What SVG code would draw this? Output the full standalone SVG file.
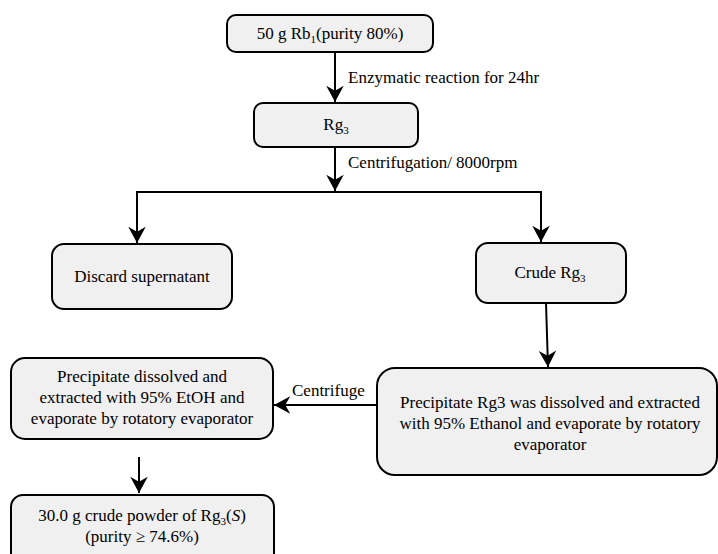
<svg xmlns="http://www.w3.org/2000/svg" width="718" height="554" viewBox="0 0 718 554">
<style>
.box{fill:#f0f0f0;stroke:#000;stroke-width:2}
.t{font-family:"Liberation Serif","Times New Roman",serif;font-size:17px;fill:#000}
.c{text-anchor:middle}
.ln{fill:none;stroke:#000;stroke-width:2}
.sub{font-size:11px}
</style>
<defs>
<marker id="ah" markerUnits="userSpaceOnUse" markerWidth="20" markerHeight="20" viewBox="-14 -8 16 16" refX="0" refY="0" orient="auto">
<path d="M-13,-7 L0,0 L-13,7 L-9,0 Z" fill="#000"/>
</marker>
</defs>
<rect width="718" height="554" fill="#fff"/>
<g id="connectors">
<line class="ln" x1="335" y1="52" x2="335" y2="102" marker-end="url(#ah)"/>
<line class="ln" x1="335" y1="147" x2="335" y2="191" marker-end="url(#ah)"/>
<polyline class="ln" points="137,243 137,192 541,192 541,243"/>
<line class="ln" x1="137" y1="200" x2="137" y2="243" marker-end="url(#ah)"/>
<line class="ln" x1="541" y1="200" x2="541" y2="242" marker-end="url(#ah)"/>
<line class="ln" x1="546" y1="303" x2="548" y2="367" marker-end="url(#ah)"/>
<line class="ln" x1="377" y1="405" x2="274" y2="405" marker-end="url(#ah)"/>
<line class="ln" x1="139" y1="457" x2="139" y2="493" marker-end="url(#ah)"/>
<text class="t" x="348" y="83">Enzymatic reaction for 24hr</text>
<text class="t" x="348" y="168">Centrifugation/ 8000rpm</text>
<text class="t" x="292" y="396">Centrifuge</text>
</g>
<g id="n1">
<rect class="box" x="227" y="15" width="206" height="37" rx="9"/>
<text class="t c" x="330" y="39">50 g Rb<tspan class="sub" dy="4">1</tspan><tspan dy="-4">(purity 80%)</tspan></text>
</g>
<g id="n2">
<rect class="box" x="254" y="103" width="164" height="44" rx="9"/>
<text class="t c" x="336" y="130">Rg<tspan class="sub" dy="4">3</tspan></text>
</g>
<g id="n3">
<rect class="box" x="52" y="244" width="180" height="65" rx="12"/>
<text class="t c" x="142" y="282">Discard supernatant</text>
</g>
<g id="n4">
<rect class="box" x="476" y="243" width="150" height="60" rx="12"/>
<text class="t c" x="550" y="278">Crude Rg<tspan class="sub" dy="4">3</tspan></text>
</g>
<g id="n5">
<rect class="box" x="377" y="368" width="340" height="107" rx="18"/>
<text class="t c" x="550" y="408">Precipitate Rg3 was dissolved and extracted</text>
<text class="t c" x="550" y="429">with 95% Ethanol and evaporate by rotatory</text>
<text class="t c" x="550" y="450">evaporator</text>
</g>
<g id="n6">
<rect class="box" x="11" y="358" width="262" height="81" rx="14"/>
<text class="t c" x="142" y="382">Precipitate dissolved and</text>
<text class="t c" x="142" y="403">extracted with 95% EtOH and</text>
<text class="t c" x="142" y="424">evaporate by rotatory evaporator</text>
</g>
<g id="n7">
<rect class="box" x="11" y="495" width="263" height="75" rx="12"/>
<text class="t c" x="142" y="521">30.0 g crude powder of Rg<tspan class="sub" dy="4">3</tspan><tspan dy="-4">(</tspan><tspan font-style="italic">S</tspan>)</text>
<text class="t c" x="142" y="542">(purity ≥ 74.6%)</text>
</g>
</svg>
